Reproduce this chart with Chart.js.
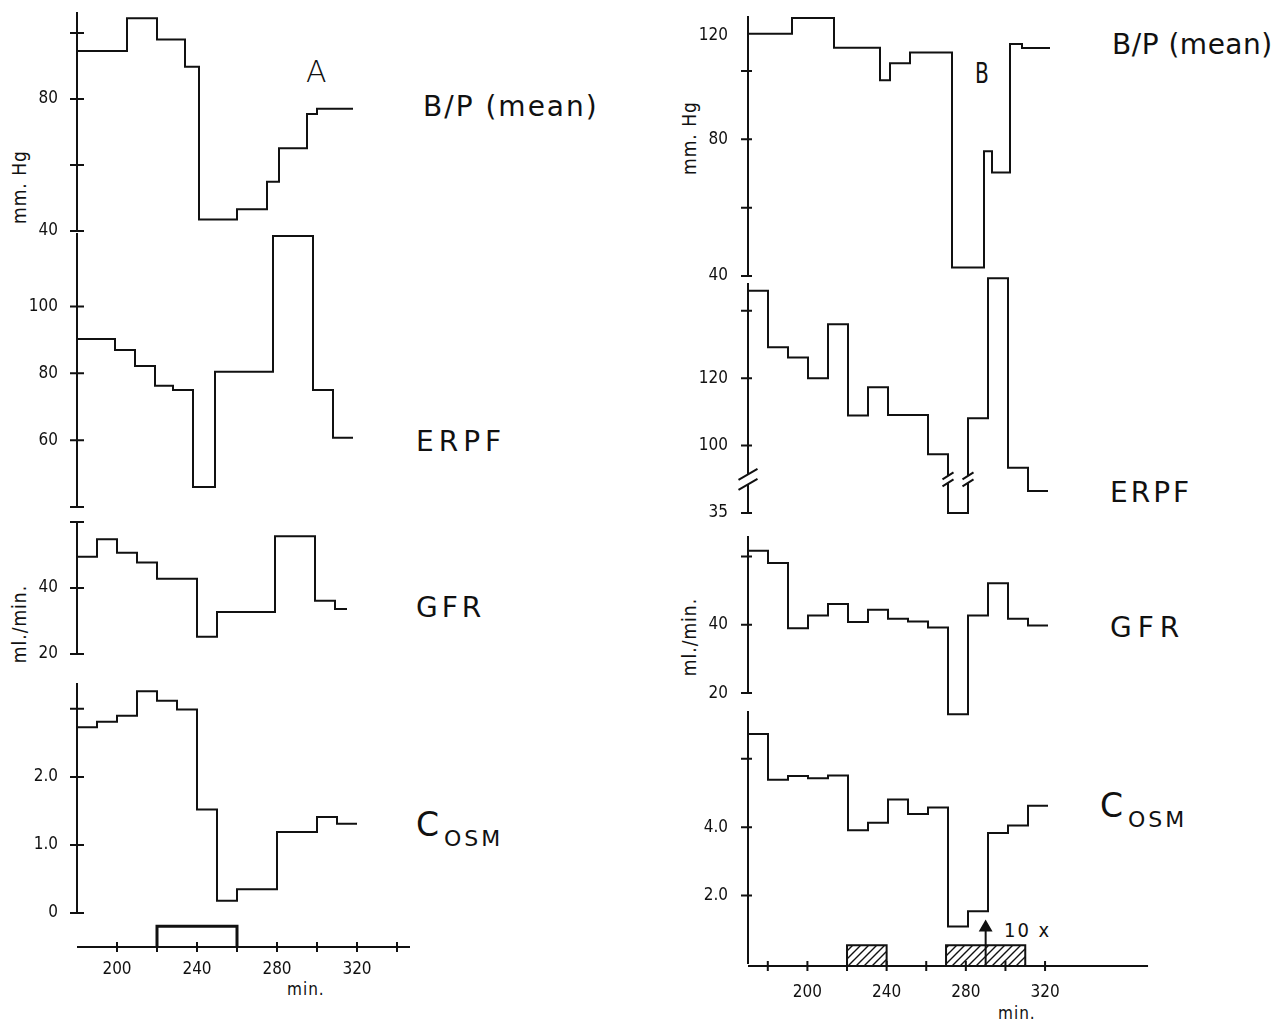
<!DOCTYPE html>
<html lang="en">
<head>
<meta charset="utf-8">
<title>B/P, ERPF, GFR and Cosm</title>
<script src="https://cdn.jsdelivr.net/npm/chart.js@4.4.1/dist/chart.umd.min.js"></script>
<style>
  html, body { margin: 0; background: #fff; }
  #page { position: relative; width: 1279px; height: 1019px; overflow: hidden; background: #fff; }
  #page canvas { position: absolute; }
  .lab { position: absolute; font-family: "DejaVu Sans", sans-serif; font-size: 28px; line-height: 1; color: #111; white-space: nowrap; }
  .lab.c { font-size: 33px; }
  .lab .sub { font-size: 22px; position: relative; top: 10px; margin-left: 5px; letter-spacing: 3px; }
  .letter { position: absolute; font-family: "DejaVu Sans", sans-serif; line-height: 1; color: #111; }
  .unit { position: absolute; font-family: "DejaVu Sans Condensed", "DejaVu Sans", sans-serif; font-size: 19px; letter-spacing: 1px; line-height: 1; color: #111; white-space: nowrap; transform: translate(-50%, -50%) rotate(-90deg); }
  .small { position: absolute; font-family: "DejaVu Sans Condensed", "DejaVu Sans", sans-serif; font-size: 17px; letter-spacing: 1px; line-height: 1; color: #111; white-space: nowrap; }
</style>
</head>
<body>
<div id="page">
  <!-- panel A -->
  <div class="letter" style="left:306px;top:57px;font-size:30px;font-weight:200">A</div>
  <div class="lab" style="left:423px;top:93px;letter-spacing:2px">B/P (mean)</div>
  <div class="lab" style="left:416px;top:428px;letter-spacing:5px">ERPF</div>
  <div class="lab" style="left:416px;top:594px;letter-spacing:4px">GFR</div>
  <div class="lab c" style="left:416px;top:808px">C<span class="sub">OSM</span></div>
  <div class="unit" style="left:19px;top:187px">mm. Hg</div>
  <div class="unit" style="left:19px;top:624px">ml./min.</div>
  <div class="small" style="left:287px;top:981px">min.</div>

  <!-- panel B -->
  <div class="letter" style="left:975px;top:60px;font-size:28px;font-family:'DejaVu Sans Condensed','DejaVu Sans',sans-serif;transform:scaleX(0.8);transform-origin:left top">B</div>
  <div class="lab" style="left:1112px;top:31px;letter-spacing:0.5px">B/P (mean)</div>
  <div class="lab" style="left:1110px;top:479px;letter-spacing:3px">ERPF</div>
  <div class="lab" style="left:1110px;top:614px;letter-spacing:6px">GFR</div>
  <div class="lab c" style="left:1100px;top:789px">C<span class="sub">OSM</span></div>
  <div class="unit" style="left:689px;top:138px">mm. Hg</div>
  <div class="unit" style="left:689px;top:637px">ml./min.</div>
  <div class="small" style="left:998px;top:1005px">min.</div>
  <div class="small" style="left:1004px;top:920px;font-size:20px;letter-spacing:2px">10 x</div>
</div>

<script>
// ---- Panel A: step edges (min.) and the value held over each interval ----
const bpATimes = [180, 205, 220, 234, 241, 260, 275, 281, 295, 300, 318];
const bpAValues = [94.6, 104.5, 98.1, 89.8, 43.5, 46.6, 54.9, 65.1, 75.5, 77.1];
const erpfATimes = [180, 199, 209, 219, 228, 238, 249, 278, 298, 308, 318];
const erpfAValues = [90.3, 87.0, 82.2, 76.3, 75.0, 46.0, 80.5, 121.1, 75.0, 60.7];
const gfrATimes = [180, 190, 200, 210, 220, 240, 250, 279, 299, 309, 315];
const gfrAValues = [49.5, 54.8, 50.7, 47.7, 42.8, 25.2, 32.7, 55.7, 36.1, 33.6];
const cosmATimes = [180, 190, 200, 210, 220, 230, 240, 250, 260, 280, 300, 310, 320];
const cosmAValues = [2.73, 2.81, 2.90, 3.26, 3.12, 2.99, 1.52, 0.18, 0.35, 1.19, 1.41, 1.31];
const infusionA = [220, 260];

// ---- Panel B ----
const bpBTimes = [170, 192, 213, 236, 241, 251, 272, 288, 292, 301, 307, 321];
const bpBValues = [110.9, 115.5, 106.8, 97.3, 102.3, 105.4, 42.5, 76.5, 70.3, 107.9, 106.7];
const erpfBTimes = [170, 180, 190, 200, 210, 220, 230, 240, 260, 270, 280, 290, 300, 310, 320];
const erpfBValues = [145.9, 129.2, 126.1, 120.0, 136.0, 108.9, 117.3, 109.1, 97.4, 35, 108.1, 149.6, 93.4, 86.5];
const gfrBTimes = [170, 180, 190, 200, 210, 220, 230, 240, 250, 260, 270, 280, 290, 300, 310, 320];
const gfrBValues = [61.7, 58.1, 39.0, 42.7, 46.1, 40.8, 44.4, 41.8, 41.0, 39.2, 13.8, 42.7, 52.2, 41.8, 39.8];
const cosmBTimes = [170, 180, 190, 200, 210, 220, 230, 240, 250, 260, 270, 280, 290, 300, 310, 320];
const cosmBValues = [6.73, 5.39, 5.50, 5.43, 5.51, 3.91, 4.13, 4.81, 4.39, 4.58, 1.10, 1.54, 3.83, 4.05, 4.63];
const infusionB = [[220, 240], [270, 310]];
const boostAt = 290; // "10 x" arrow

// ---- axis ticks and labels ----
const bpATicks = [40, 60, 80, 100];
const bpALabels = { 40: '40', 80: '80' };
const erpfATicks = [40, 60, 80, 100];
const erpfALabels = { 60: '60', 80: '80', 100: '100' };
const gfrATicks = [20, 40, 60];
const gfrALabels = { 20: '20', 40: '40' };
const cosmATicks = [0, 1, 2, 3];
const cosmALabels = { 0: '0', 1: '1.0', 2: '2.0' };
const timeTicksA = [200, 220, 240, 260, 280, 300, 320, 340];

const bpBTicks = [40, 60, 80, 100];
const bpBLabels = { 40: '40', 80: '80' };
const bpBLooseLabels = [[110.5, '120']]; // printed off the tick grid in the original
const erpfBTicks = [35, 100, 120, 140];
const erpfBLabels = { 35: '35', 100: '100', 120: '120' };
const erpfBGap = [40, 85]; // broken axis: this value range is cut out
const gfrBTicks = [20, 40, 60];
const gfrBLabels = { 20: '20', 40: '40' };
const cosmBTicks = [2, 4, 6];
const cosmBLabels = { 2: '2.0', 4: '4.0' };
const timeTicksB = [180, 200, 220, 240, 260, 280, 300, 320];

const timeLabels = [200, 240, 280, 320];

const ink = '#111';
const PX_PER_MIN = 2;
const PAD = 34; // must cover half a tick label plus tick padding

Chart.defaults.font.family = '"DejaVu Sans Condensed", "DejaVu Sans", sans-serif';
Chart.defaults.font.size = 17;
Chart.defaults.color = ink;

// linear scale with a collapsed stretch, for the broken ERPF axis in B
class BrokenLinearScale extends Chart.LinearScale {
    static id = 'brokenLinear';
    squash(v) {
        const [lo, hi] = this.options.gap;
        return v <= lo ? v + (hi - lo) : v;
    }
    determineDataLimits() {
        super.determineDataLimits();
        this.min = this.squash(this.min);
        this.max = this.squash(this.max);
    }
    getPixelForValue(v) {
        return super.getPixelForValue(this.squash(v));
    }
}
Chart.register(BrokenLinearScale);

// axis lines, cross ticks and break marks
const frame = (spec) => ({
    id: 'frame',
    afterDatasetsDraw(chart) {
        const { ctx, chartArea } = chart;
        const sx = chart.scales.x;
        const sy = chart.scales.y;
        ctx.save();
        ctx.strokeStyle = ink;
        ctx.lineWidth = 2;
        ctx.beginPath();
        if (spec.y) {
            const x0 = chartArea.left;
            ctx.moveTo(x0, sy.getPixelForValue(spec.y.from));
            ctx.lineTo(x0, sy.getPixelForValue(spec.y.to));
            spec.y.marks.forEach((v) => {
                const py = sy.getPixelForValue(v);
                ctx.moveTo(x0 - spec.y.left, py);
                ctx.lineTo(x0 + spec.y.right, py);
            });
        }
        if (spec.x) {
            const y0 = chartArea.bottom;
            ctx.moveTo(sx.getPixelForValue(spec.x.from), y0);
            ctx.lineTo(sx.getPixelForValue(spec.x.to), y0);
            spec.x.marks.forEach((v) => {
                const px = sx.getPixelForValue(v);
                ctx.moveTo(px, y0 - 5);
                ctx.lineTo(px, y0 + 5);
            });
        }
        ctx.stroke();
        (spec.breaks || []).forEach((b) => {
            const px = b.x === 'axis' ? chartArea.left : sx.getPixelForValue(b.x);
            const py = sy.getPixelForValue(b.y);
            ctx.fillStyle = '#fff';
            ctx.fillRect(px - 3, py - b.gap / 2, 6, b.gap);
            ctx.beginPath();
            [-b.gap / 2, b.gap / 2].forEach((s) => {
                ctx.moveTo(px - b.w / 2, py + s + b.h / 2);
                ctx.lineTo(px + b.w / 2, py + s - b.h / 2);
            });
            ctx.stroke();
        });
        ctx.restore();
    },
});

const addCanvas = (left, top, width, height) => {
    const c = document.createElement('canvas');
    c.width = Math.round(width);
    c.height = Math.round(height);
    c.style.left = left + 'px';
    c.style.top = top + 'px';
    document.getElementById('page').appendChild(c);
    return c;
};

const stepPoints = (times, values) => values
    .map((v, i) => ({ x: times[i], y: v }))
    .concat({ x: times[times.length - 1], y: values[values.length - 1] });

const tickList = (vals) => vals.map((v) => ({ value: v }));

const baseOptions = {
    responsive: false,
    animation: false,
    events: [],
    plugins: { legend: { display: false }, tooltip: { enabled: false } },
};

// one trace with its own y axis
function yPanel(panel, p) {
    const axisW = 70;
    const left = panel.axisX - axisW;
    const canvas = addCanvas(left, p.top - PAD, panel.right + 4 - left, p.bottom - p.top + 2 * PAD);
    const loose = p.loose || [];
    const tickVals = p.marks.concat(loose.map((e) => e[0]));
    const labelOf = { ...p.labels };
    loose.forEach(([v, t]) => { labelOf[v] = t; });

    return new Chart(canvas, {
        type: 'line',
        data: {
            datasets: [{
                data: stepPoints(p.times, p.values),
                stepped: 'before',
                borderColor: ink,
                borderWidth: 2,
                pointRadius: 0,
                fill: false,
                clip: false,
            }],
        },
        options: {
            ...baseOptions,
            layout: { padding: { top: PAD, bottom: PAD, left: 0, right: 4 } },
            scales: {
                x: {
                    type: 'linear',
                    display: false,
                    min: panel.xMin,
                    max: panel.xMin + (panel.right - panel.axisX) / PX_PER_MIN,
                },
                y: {
                    type: p.type || 'linear',
                    gap: p.gap,
                    min: p.yMin,
                    max: p.yMax,
                    bounds: 'data',
                    grid: { display: false, drawTicks: false },
                    border: { display: false },
                    ticks: {
                        autoSkip: false,
                        padding: panel.labelGap,
                        callback: (v) => labelOf[v] ?? '',
                    },
                    afterBuildTicks: (s) => { s.ticks = tickList(tickVals); },
                    afterFit: (s) => { s.width = axisW; },
                },
            },
        },
        plugins: [frame({
            y: { from: p.axis[0], to: p.axis[1], marks: p.marks, left: panel.tickL, right: panel.tickR },
            breaks: p.breaks,
        })],
    });
}

// time axis strip with the infusion markers
function timeAxis(p) {
    const padL = 10;
    const below = 44;
    const left = p.axisX - padL;
    const top = p.baseY - p.yMax * p.unitPx;
    const canvas = addCanvas(left, top - 8, p.right + 4 - left, 8 + (p.baseY - top) + below);
    return new Chart(canvas, {
        type: 'line',
        data: { datasets: p.datasets },
        options: {
            ...baseOptions,
            layout: { padding: { top: 8, left: padL, right: 4, bottom: 0 } },
            scales: {
                x: {
                    type: 'linear',
                    position: 'bottom',
                    min: p.xMin,
                    max: p.xMin + (p.right - p.axisX) / PX_PER_MIN,
                    grid: { display: false, drawTicks: false },
                    border: { display: false },
                    ticks: { autoSkip: false, maxRotation: 0, padding: p.labelGap },
                    afterBuildTicks: (s) => { s.ticks = tickList(timeLabels); },
                    afterFit: (s) => { s.height = below; },
                },
                y: { type: 'linear', display: false, min: 0, max: p.yMax },
            },
        },
        plugins: [frame({ x: { from: p.xMin, to: p.lineEnd, marks: p.marks } })],
    });
}

const boxPoints = ([a, b], level) => [
    { x: a, y: 0 }, { x: a, y: level }, { x: b, y: level }, { x: b, y: 0 },
];

const hatch = (() => {
    const tile = document.createElement('canvas');
    tile.width = 8;
    tile.height = 8;
    const g = tile.getContext('2d');
    g.strokeStyle = ink;
    g.lineWidth = 1.4;
    g.beginPath();
    g.moveTo(0, 8); g.lineTo(8, 0);
    g.moveTo(-2, 2); g.lineTo(2, -2);
    g.moveTo(6, 10); g.lineTo(10, 6);
    g.stroke();
    return g.createPattern(tile, 'repeat');
})();

// ---------------- Panel A ----------------
const PANEL_A = { axisX: 77, xMin: 180, right: 420, labelGap: 19, tickL: 7, tickR: 7 };

yPanel(PANEL_A, { top: 12, bottom: 231, yMin: 40, yMax: 106.4, axis: [40, 106.4],
    marks: bpATicks, labels: bpALabels, times: bpATimes, values: bpAValues });
yPanel(PANEL_A, { top: 233, bottom: 507, yMin: 40, yMax: 122, axis: [40, 122],
    marks: erpfATicks, labels: erpfALabels, times: erpfATimes, values: erpfAValues });
yPanel(PANEL_A, { top: 522, bottom: 654, yMin: 20, yMax: 60, axis: [20, 60],
    marks: gfrATicks, labels: gfrALabels, times: gfrATimes, values: gfrAValues });
yPanel(PANEL_A, { top: 683, bottom: 913, yMin: 0, yMax: 3.38, axis: [0, 3.38],
    marks: cosmATicks, labels: cosmALabels, times: cosmATimes, values: cosmAValues });

timeAxis({
    axisX: 77, xMin: 180, right: 412, lineEnd: 346.5, baseY: 947, unitPx: 21, yMax: 1.3,
    labelGap: 12, marks: timeTicksA,
    datasets: [{
        data: boxPoints(infusionA, 1),
        borderColor: ink, borderWidth: 3, pointRadius: 0, fill: false, clip: false,
    }],
});

// ---------------- Panel B ----------------
const PANEL_B = { axisX: 748, xMin: 170, right: 1110, labelGap: 20, tickL: 7, tickR: 4 };

yPanel(PANEL_B, { top: 16, bottom: 276, yMin: 40, yMax: 116.1, axis: [40, 116.1],
    marks: bpBTicks, labels: bpBLabels, loose: bpBLooseLabels, times: bpBTimes, values: bpBValues });
yPanel(PANEL_B, { top: 277, bottom: 513, yMin: 35, yMax: 150, axis: [35, 148.2],
    type: 'brokenLinear', gap: erpfBGap,
    marks: erpfBTicks, labels: erpfBLabels, times: erpfBTimes, values: erpfBValues,
    breaks: [
        { x: 'axis', y: 90, w: 19, h: 11, gap: 10 },
        { x: 270, y: 90, w: 11, h: 7, gap: 7 },
        { x: 280, y: 90, w: 11, h: 7, gap: 7 },
    ] });
yPanel(PANEL_B, { top: 536, bottom: 717, yMin: 13, yMax: 66, axis: [20, 66],
    marks: gfrBTicks, labels: gfrBLabels, times: gfrBTimes, values: gfrBValues });
yPanel(PANEL_B, { top: 711, bottom: 964, yMin: 0, yMax: 7.4, axis: [0, 7.4],
    marks: cosmBTicks, labels: cosmBLabels, times: cosmBTimes, values: cosmBValues });

timeAxis({
    axisX: 748, xMin: 170, right: 1156, lineEnd: 372, baseY: 966, unitPx: 21, yMax: 2.4,
    labelGap: 16, marks: timeTicksB,
    datasets: [
        ...infusionB.map((span) => ({
            data: boxPoints(span, 1),
            borderColor: ink, borderWidth: 2, pointRadius: 0,
            backgroundColor: hatch, fill: 'origin', clip: false,
        })),
        {
            data: [{ x: boostAt, y: 0 }, { x: boostAt, y: 1.85 }],
            borderColor: ink, borderWidth: 2,
            pointRadius: [0, 6], pointStyle: 'triangle',
            pointBackgroundColor: ink, pointBorderColor: ink, fill: false, clip: false,
        },
    ],
});
</script>
</body>
</html>
